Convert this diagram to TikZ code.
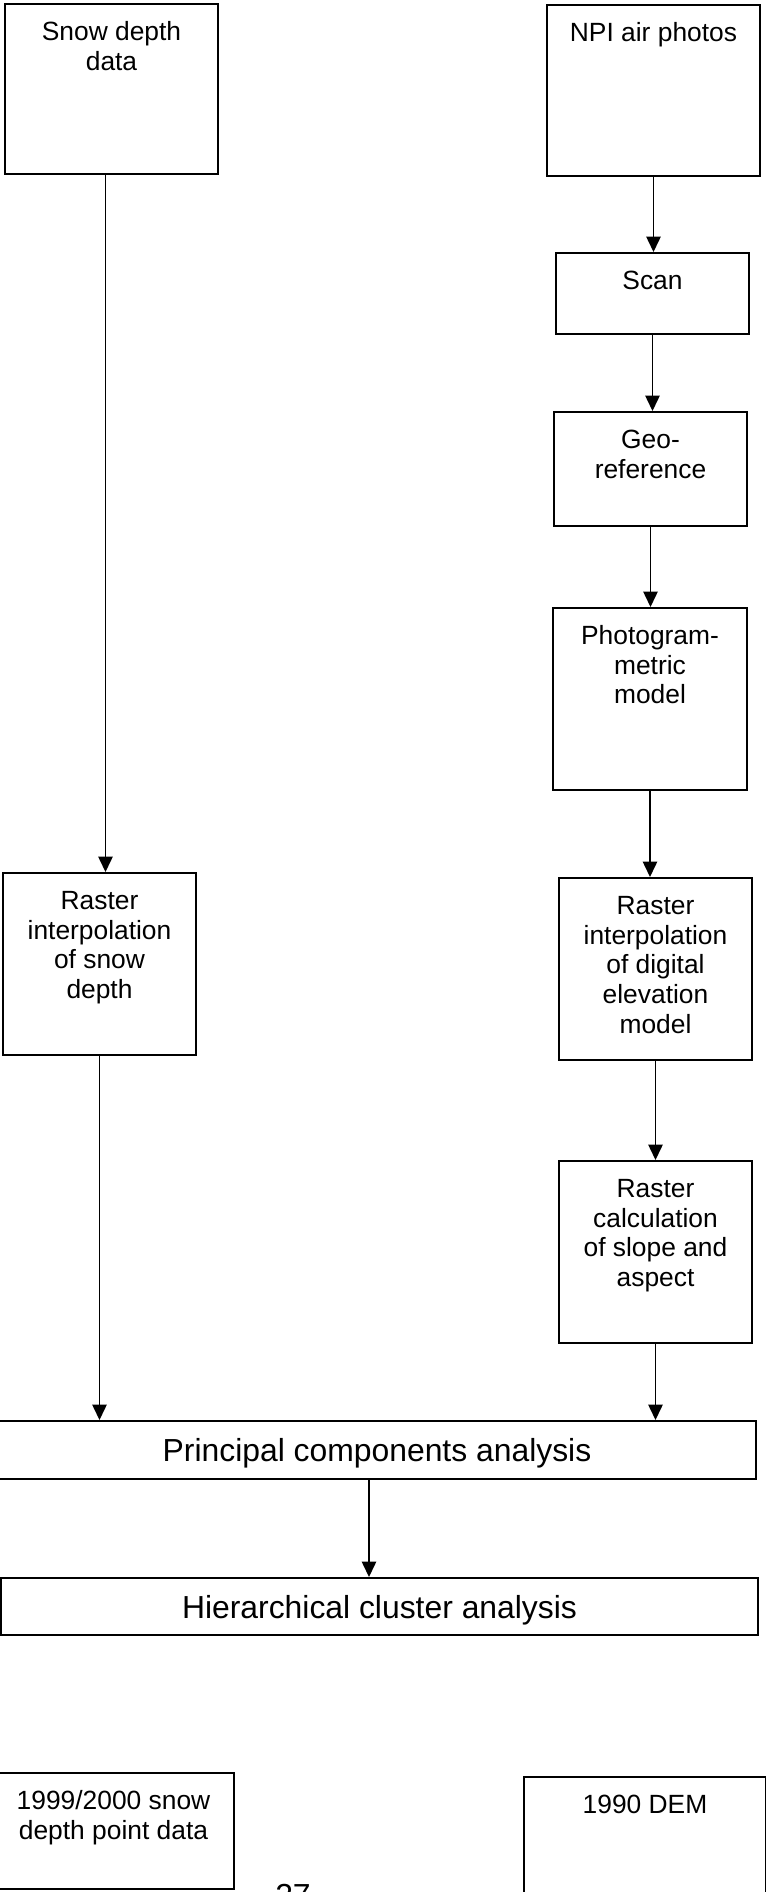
\documentclass[tikz,border=0pt]{standalone}
\usepackage{fontspec}
\setmainfont{Liberation Sans}
\usetikzlibrary{arrows.meta}

\newdimen\pxu
\pxu=0.455pt

\tikzset{sqr/.style 2 args={rectangle, draw=black, line width=0.9pt, inner sep=0pt,
  execute at begin node={\begin{minipage}[c][#2\pxu][t]{#1\pxu}\centering\vspace*{7.1pt}\strut},
  execute at end node={\end{minipage}}}}
\tikzstyle{wide} = [rectangle, draw=black, line width=0.9pt, inner sep=0pt, text depth=0pt, font=\fontsize{14.5}{16}\selectfont]
\tikzstyle{arrow} = [line width=0.8pt, -{Triangle[length=7pt,width=6.5pt]}]

\begin{document}
\begin{tikzpicture}[x=0.455pt, y=-0.455pt, font=\fontsize{12}{13.5}\selectfont]
\useasboundingbox (0,0) rectangle (765,1892);

%% Snow depth branch
\node (snw_dat) [sqr={213}{170}] at (111.5,89) {Snow depth\\data};
\node (ras_snw) [sqr={193}{182}] at (99.5,964) {Raster\\interpolation\\of snow\\depth};

%% Air photo branch
\node (npi_pho) [sqr={213}{171}] at (653.5,90.5) {NPI air photos};
\node (scn) [sqr={193}{81}] at (652.5,293.5) {Scan};
\node (geo_ref) [sqr={193}{114}] at (650.5,469) {Geo-\\reference};
\node (pht_mod) [sqr={194}{182}] at (650,699) {Photogram-\\metric\\model};
\node (ras_dem) [sqr={193}{182}] at (655.5,969) {Raster\\interpolation\\of digital\\elevation\\model};
\node (ras_slp) [sqr={193}{182}] at (655.5,1252) {Raster\\calculation\\of slope and\\aspect};

%% Analysis
\node (pca) [wide, minimum width=758\pxu, minimum height=58\pxu] at (377,1450) {Principal components analysis};
\node (hca) [wide, minimum width=757\pxu, minimum height=57\pxu] at (379.5,1606.5) {Hierarchical cluster analysis};

%% Input data
\node (pnt_dat) [sqr={241}{116}] at (113.5,1831) {1999/2000 snow\\depth point data};
\node (dem_90) [sqr={242}{125}] at (645,1839.5) {1990 DEM};

%% Page number
\node (pg_num) [anchor=base, font=\fontsize{14.5}{16}\selectfont] at (293,1906) {27};

%% Arrows
\draw [arrow] ([xshift=-6\pxu]snw_dat.south) -- ([xshift=6\pxu]ras_snw.north);
\draw [arrow] (ras_snw.south) -- (ras_snw.south |- pca.north);

\draw [arrow] (npi_pho.south) -- (npi_pho.south |- scn.north);
\draw [arrow] (scn.south) -- (scn.south |- geo_ref.north);
\draw [arrow] (geo_ref.south) -- (geo_ref.south |- pht_mod.north);
\draw [arrow] (pht_mod.south) -- (pht_mod.south |- ras_dem.north);
\draw [arrow] (ras_dem.south) -- (ras_slp.north);
\draw [arrow] (ras_slp.south) -- (ras_slp.south |- pca.north);

\draw [arrow] ([xshift=-8\pxu]pca.south) -- ([xshift=-10.5\pxu]hca.north);
\end{tikzpicture}
\end{document}
